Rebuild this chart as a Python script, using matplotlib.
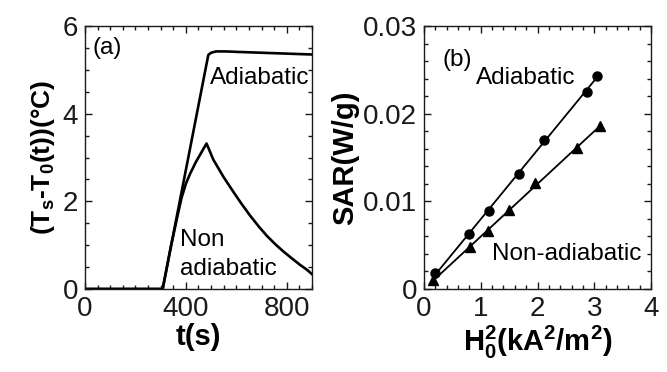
import numpy as np
import matplotlib
matplotlib.use("Agg")
import matplotlib.pyplot as plt
from matplotlib.ticker import MultipleLocator, FixedLocator, FixedFormatter

plt.rcParams['font.family'] = ['Liberation Sans', 'DejaVu Sans']
plt.rcParams['mathtext.fontset'] = 'custom'
plt.rcParams['mathtext.rm'] = 'Liberation Sans'
plt.rcParams['mathtext.bf'] = 'Liberation Sans:bold'
plt.rcParams['mathtext.it'] = 'Liberation Sans'

# (a) temperature rise vs time
t_adi = [0, 100, 200, 308, 489, 500, 520, 560, 600, 650, 700, 750, 800, 850, 900]
dT_adi = [0, 0, 0, 0, 5.34, 5.39, 5.42, 5.42, 5.41, 5.40, 5.39, 5.38, 5.37, 5.36, 5.35]

t_non = [0, 100, 200, 308, 340, 365, 383, 400, 416, 440, 462, 482,
         509, 550, 588, 620, 654, 690, 720, 755, 786, 820, 853, 880, 900]
dT_non = [0, 0, 0, 0, 0.95, 1.62, 2.08, 2.40, 2.62, 2.90, 3.12, 3.32,
          2.95, 2.55, 2.22, 1.95, 1.68, 1.42, 1.22, 1.02, 0.86, 0.70, 0.55, 0.44, 0.34]

# (b) SAR vs H0^2
h2_adi = [0.194, 0.793, 1.145, 1.674, 2.12, 2.866, 3.04]
sar_adi = [0.00179, 0.00627, 0.00893, 0.01315, 0.0170, 0.0225, 0.0243]
h2_non = [0.165, 0.81, 1.134, 1.504, 1.956, 2.69, 3.11]
sar_non = [0.00103, 0.00475, 0.00665, 0.00901, 0.01205, 0.01605, 0.0186]

a_xticks = [0, 400, 800]
a_yticks = [0, 2, 4, 6]
b_xticks = [0, 1, 2, 3, 4]
b_yticks = [0, 0.01, 0.02, 0.03]
b_yticklabels = ['0', '0.01', '0.02', '0.03']

fig = plt.figure(figsize=(6.67, 3.72), dpi=100)
ax1 = fig.add_axes([0.1274, 0.2231, 0.3403, 0.707])
ax2 = fig.add_axes([0.6357, 0.2231, 0.3403, 0.707])

fs_tick = 20
fs_txt = 17.5
fs_lab = 21
col = '#1a1a1a'

for ax in (ax1, ax2):
    ax.tick_params(which='both', direction='in', top=True, right=True,
                   labelsize=fs_tick, colors=col, width=1.0)
    ax.tick_params(which='major', length=5, pad=5)
    ax.tick_params(which='minor', length=3)
    for s in ax.spines.values():
        s.set_color(col)
        s.set_linewidth(1.0)

# panel a
ax1.plot(t_adi, dT_adi, color='black', lw=1.9)
ax1.plot(t_non, dT_non, color='black', lw=1.9)
ax1.set_xlim(0, 900)
ax1.set_ylim(0, 6)
ax1.xaxis.set_major_locator(FixedLocator(a_xticks))
ax1.yaxis.set_major_locator(FixedLocator(a_yticks))
ax1.xaxis.set_minor_locator(MultipleLocator(50))
ax1.yaxis.set_minor_locator(MultipleLocator(0.5))
ax1.set_xlabel('t(s)', fontsize=fs_lab, fontweight='bold', labelpad=1)
ax1.set_ylabel(r'(T$_\mathbf{s}$-T$_\mathbf{0}$(t))(°C)', fontsize=19,
               fontweight='bold', labelpad=4)
ax1.text(28, 5.5, '(a)', fontsize=fs_txt, va='center', ha='left')
ax1.text(496, 4.81, 'Adiabatic', fontsize=fs_txt, va='center', ha='left')
ax1.text(377, 1.12, 'Non', fontsize=fs_txt, va='center', ha='left')
ax1.text(377, 0.46, 'adiabatic', fontsize=fs_txt, va='center', ha='left')

# panel b
for x, y, m, ms in ((h2_adi, sar_adi, 'o', 6.5), (h2_non, sar_non, '^', 7.5)):
    ax2.plot(x, y, m, color='black', ms=ms)
    k, b = np.polyfit(x, y, 1)
    xx = np.array([min(x), max(x)])
    ax2.plot(xx, k * xx + b, color='black', lw=1.3)
ax2.set_xlim(0, 4)
ax2.set_ylim(0, 0.03)
ax2.xaxis.set_major_locator(FixedLocator(b_xticks))
ax2.yaxis.set_major_locator(FixedLocator(b_yticks))
ax2.yaxis.set_major_formatter(FixedFormatter(b_yticklabels))
ax2.xaxis.set_minor_locator(MultipleLocator(0.2))
ax2.yaxis.set_minor_locator(MultipleLocator(0.002))
ax2.set_xlabel(r'H$_\mathbf{0}^\mathbf{2}$(kA$^\mathbf{2}$/m$^\mathbf{2}$)',
               fontsize=fs_lab, fontweight='bold', labelpad=1)
ax2.set_ylabel('SAR(W/g)', fontsize=fs_lab, fontweight='bold', labelpad=3)
ax2.text(0.33, 0.0261, '(b)', fontsize=fs_txt, va='center', ha='left')
ax2.text(0.92, 0.0241, 'Adiabatic', fontsize=fs_txt, va='center', ha='left')
ax2.text(1.2, 0.0040, 'Non-adiabatic', fontsize=fs_txt, va='center', ha='left')

fig.savefig('out.png', dpi=100)
